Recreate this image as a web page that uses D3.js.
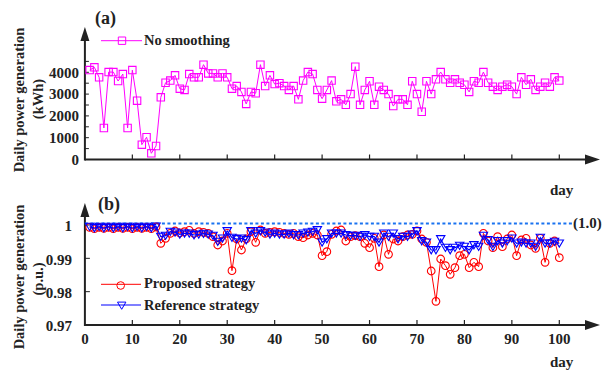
<!DOCTYPE html>
<html>
<head>
<meta charset="utf-8">
<script src="https://cdn.jsdelivr.net/npm/d3@7"></script>
<style>
  body { margin: 0; background: #fff; }
  svg { display: block; }
  text { font-family: "Liberation Serif", "Times New Roman", serif; font-weight: bold; fill: #222; }
</style>
</head>
<body>
<div id="chartWrapper"></div>
<script>
// day index on x axis
const days = d3.range(1, 101);

// (a) daily generation without smoothing, kWh
const noSmoothing = [
  4100, 4230, 3770, 1445, 4010, 4010, 3600, 3920, 1445, 4100,
  2700, 680, 1020, 285, 620, 2850, 3520, 3620, 3860, 3250,
  3190, 3920, 3770, 3770, 4350, 3950, 3950, 3770, 3950, 3770,
  3250, 3370, 3100, 2550, 3100, 3040, 4350, 3370, 3860, 3460,
  3500, 3370, 3190, 3370, 2760, 3620, 4010, 3920, 3190, 2790,
  3190, 3620, 2670, 2760, 2510, 3000, 4260, 2510, 3190, 3590,
  2510, 3340, 3190, 3000, 2450, 2760, 2760, 2510, 3590, 3000,
  2190, 3590, 3000, 3680, 4010, 3680, 3520, 3680, 3520, 3430,
  3100, 3590, 3520, 4010, 3520, 3340, 3190, 3340, 3430, 3340,
  3000, 3770, 3430, 3680, 3190, 3340, 3520, 3340, 3770, 3620
];

// (b) per-unit daily generation
const proposed = [
  0.9993, 0.9989, 0.9993, 0.9990, 0.9993, 0.9989, 0.9993, 0.9990, 0.9993, 0.9989,
  0.9993, 0.9990, 0.9993, 0.9989, 0.9994, 0.9945, 0.9960, 0.9975, 0.9982, 0.9976,
  0.9980, 0.9984, 0.9975, 0.9980, 0.9978, 0.9975, 0.9965, 0.9940, 0.9952, 0.9975,
  0.9863, 0.9958, 0.9925, 0.9958, 0.9980, 0.9948, 0.9985, 0.9975, 0.9978, 0.9980,
  0.9978, 0.9975, 0.9972, 0.9975, 0.9965, 0.9962, 0.9970, 0.9975, 0.9970, 0.9908,
  0.9920, 0.9972, 0.9982, 0.9985, 0.9952, 0.9965, 0.9968, 0.9965, 0.9945, 0.9932,
  0.9960, 0.9875, 0.9970, 0.9912, 0.9958, 0.9952, 0.9965, 0.9970, 0.9972, 0.9982,
  0.9958, 0.9948, 0.9862, 0.9771, 0.9898, 0.9878, 0.9852, 0.9872, 0.9908, 0.9912,
  0.9872, 0.9888, 0.9875, 0.9975, 0.9952, 0.9932, 0.9965, 0.9935, 0.9958, 0.9970,
  0.9908, 0.9955, 0.9960, 0.9940, 0.9930, 0.9960, 0.9888, 0.9945, 0.9952, 0.9902
];
const reference = [
  0.9995, 0.9991, 0.9995, 0.9991, 0.9995, 0.9991, 0.9995, 0.9991, 0.9995, 0.9991,
  0.9995, 0.9991, 0.9995, 0.9991, 0.9996, 0.9965, 0.9968, 0.9980, 0.9978, 0.9972,
  0.9975, 0.9975, 0.9970, 0.9972, 0.9974, 0.9972, 0.9968, 0.9950, 0.9960, 0.9982,
  0.9962, 0.9958, 0.9960, 0.9955, 0.9982, 0.9975, 0.9982, 0.9978, 0.9972, 0.9975,
  0.9972, 0.9972, 0.9975, 0.9970, 0.9970, 0.9975, 0.9978, 0.9980, 0.9985, 0.9948,
  0.9958, 0.9975, 0.9975, 0.9975, 0.9970, 0.9968, 0.9968, 0.9965, 0.9970, 0.9965,
  0.9965, 0.9948, 0.9975, 0.9965, 0.9975, 0.9958, 0.9965, 0.9965, 0.9972, 0.9982,
  0.9952, 0.9948, 0.9925, 0.9925, 0.9958, 0.9932, 0.9925, 0.9932, 0.9938, 0.9935,
  0.9925, 0.9940, 0.9935, 0.9968, 0.9955, 0.9935, 0.9952, 0.9945, 0.9952, 0.9960,
  0.9945, 0.9948, 0.9945, 0.9945, 0.9935, 0.9962, 0.9945, 0.9945, 0.9950, 0.9945
];

const dayTicks = [10, 20, 30, 40, 50, 60, 70, 80, 90, 100];
const dayLabels = [0, 10, 20, 30, 40, 50, 60, 70, 80, 90, 100];
const kwhLabels = [0, 1000, 2000, 3000, 4000];
const kwhTicks = [500, 1000, 1500, 2000, 2500, 3000, 3500, 4000, 4500];
const puLabels = [0.97, 0.98, 0.99, 1];
const puRef = 1.0;

const W = 604, H = 371;
const svg = d3.select('#chartWrapper').append('svg').attr('width', W).attr('height', H);

const x = d3.scaleLinear().domain([0, 100]).range([84.9, 559.3]);
const yA = d3.scaleLinear().domain([0, 4000]).range([159.5, 72.3]);
const yB = d3.scaleLinear().domain([0.97, 1]).range([325, 225]);

const magenta = '#ff00ff', red = '#ff0000', blue = '#0000ff';

function drawAxes(g, y0, yTop){
  // axis lines with arrow heads
  g.append('line').attr('x1', x(0)).attr('x2', 588).attr('y1', y0).attr('y2', y0)
    .attr('stroke', '#222').attr('stroke-width', 2);
  g.append('path').attr('d', `M600,${y0} L585,${y0 - 5} L585,${y0 + 5} Z`).attr('fill', '#222');
  g.append('line').attr('x1', x(0)).attr('x2', x(0)).attr('y1', y0 + 1).attr('y2', yTop + 12)
    .attr('stroke', '#222').attr('stroke-width', 2);
  g.append('path').attr('d', `M${x(0)},${yTop} L${x(0) - 4.5},${yTop + 14} L${x(0) + 4.5},${yTop + 14} Z`).attr('fill', '#222');
  g.selectAll('.xtick').data(dayTicks).enter().append('line')
    .attr('x1', d => x(d)).attr('x2', d => x(d)).attr('y1', y0).attr('y2', y0 - 5)
    .attr('stroke', '#222').attr('stroke-width', 1.2);
}

function drawSeries(g, values, y, color, marker, width){
  const pts = values.map((v, i) => [x(days[i]), y(v)]);
  g.append('path').attr('d', d3.line()(pts)).attr('fill', 'none')
    .attr('stroke', color).attr('stroke-width', width);
  g.selectAll(null).data(pts).enter().append('path')
    .attr('transform', d => `translate(${d[0]},${d[1]})`)
    .attr('d', marker).attr('fill', 'none').attr('stroke', color).attr('stroke-width', 1.1);
}

const squareMk = 'M-3.7,-3.7H3.7V3.7H-3.7Z';
const circleMk = d3.symbol(d3.symbolCircle, 46)();
const triMk = 'M-4.2,-3.4L4.2,-3.4L0,3.8Z';

// ---- panel (a)
const gA = svg.append('g');
drawAxes(gA, yA(0), 27);
gA.selectAll('.ytick').data(kwhTicks).enter().append('line')
  .attr('x1', x(0)).attr('x2', x(0) + 4).attr('y1', d => yA(d)).attr('y2', d => yA(d))
  .attr('stroke', '#222').attr('stroke-width', 1);
gA.selectAll('.ylab').data(kwhLabels).enter().append('text')
  .attr('x', 79).attr('y', d => yA(d)).attr('dy', '0.35em').attr('text-anchor', 'end')
  .style('font-size', '15px').text(d => d);
drawSeries(gA, noSmoothing, yA, magenta, squareMk, 1);

gA.append('text').attr('x', 95).attr('y', 23.5).style('font-size', '18px').text('(a)');
gA.append('line').attr('x1', 101).attr('x2', 142).attr('y1', 40.7).attr('y2', 40.7).attr('stroke', magenta).attr('stroke-width', 1);
gA.append('path').attr('transform', 'translate(122,40.7)').attr('d', squareMk).attr('fill', 'none').attr('stroke', magenta);
gA.append('text').attr('x', 144).attr('y', 45).style('font-size', '14.5px').text('No smoothing');
gA.append('text').attr('transform', 'translate(19,100) rotate(-90)').attr('text-anchor', 'middle')
  .attr('dy', '0.35em').style('font-size', '14.5px').text('Daily power generation');
gA.append('text').attr('transform', 'translate(38,99) rotate(-90)').attr('text-anchor', 'middle')
  .attr('dy', '0.35em').style('font-size', '14.5px').text('(kWh)');
gA.append('text').attr('x', 550).attr('y', 195).style('font-size', '15px').text('day');

// ---- panel (b)
const gB = svg.append('g');
drawAxes(gB, yB(0.97), 203);
gB.selectAll('.ytick').data(puLabels.slice(1)).enter().append('line')
  .attr('x1', x(0)).attr('x2', x(0) + 5).attr('y1', d => yB(d)).attr('y2', d => yB(d))
  .attr('stroke', '#222').attr('stroke-width', 1);
gB.selectAll('.ylab').data(puLabels).enter().append('text')
  .attr('x', 72).attr('y', d => yB(d) + 1).attr('dy', '0.35em').attr('text-anchor', 'end')
  .style('font-size', '15px').text(d => d);
gB.selectAll('.xlab').data(dayLabels).enter().append('text')
  .attr('x', d => x(d)).attr('y', 344).attr('text-anchor', 'middle').style('font-size', '15px').text(d => d);

gB.append('line').attr('x1', x(0)).attr('x2', 572).attr('y1', yB(puRef) - 1.5).attr('y2', yB(puRef) - 1.5)
  .attr('stroke', '#1a73f0').attr('stroke-width', 2).attr('stroke-dasharray', '3,2.5');
gB.append('text').attr('x', 573).attr('y', 228).style('font-size', '15px').text('(1.0)');

drawSeries(gB, proposed, yB, red, circleMk, 1);
drawSeries(gB, reference, yB, blue, triMk, 1.2);

gB.append('text').attr('x', 98).attr('y', 210).style('font-size', '18px').text('(b)');
gB.append('line').attr('x1', 101).attr('x2', 141).attr('y1', 284.3).attr('y2', 284.3).attr('stroke', red).attr('stroke-width', 1);
gB.append('path').attr('transform', 'translate(120.7,285.5)').attr('d', circleMk).attr('fill', 'none').attr('stroke', red);
gB.append('text').attr('x', 144).attr('y', 288).style('font-size', '14.5px').text('Proposed strategy');
gB.append('line').attr('x1', 101).attr('x2', 141).attr('y1', 305).attr('y2', 305).attr('stroke', blue).attr('stroke-width', 1.2);
gB.append('path').attr('transform', 'translate(121.7,305.5)').attr('d', triMk).attr('fill', 'none').attr('stroke', blue);
gB.append('text').attr('x', 144).attr('y', 309.5).style('font-size', '14.5px').text('Reference strategy');
gB.append('text').attr('transform', 'translate(19,277) rotate(-90)').attr('text-anchor', 'middle')
  .attr('dy', '0.35em').style('font-size', '14.5px').text('Daily power generation');
gB.append('text').attr('transform', 'translate(38,279) rotate(-90)').attr('text-anchor', 'middle')
  .attr('dy', '0.35em').style('font-size', '14.5px').text('(p.u.)');
gB.append('text').attr('x', 550).attr('y', 367).style('font-size', '15px').text('day');
</script>
</body>
</html>
